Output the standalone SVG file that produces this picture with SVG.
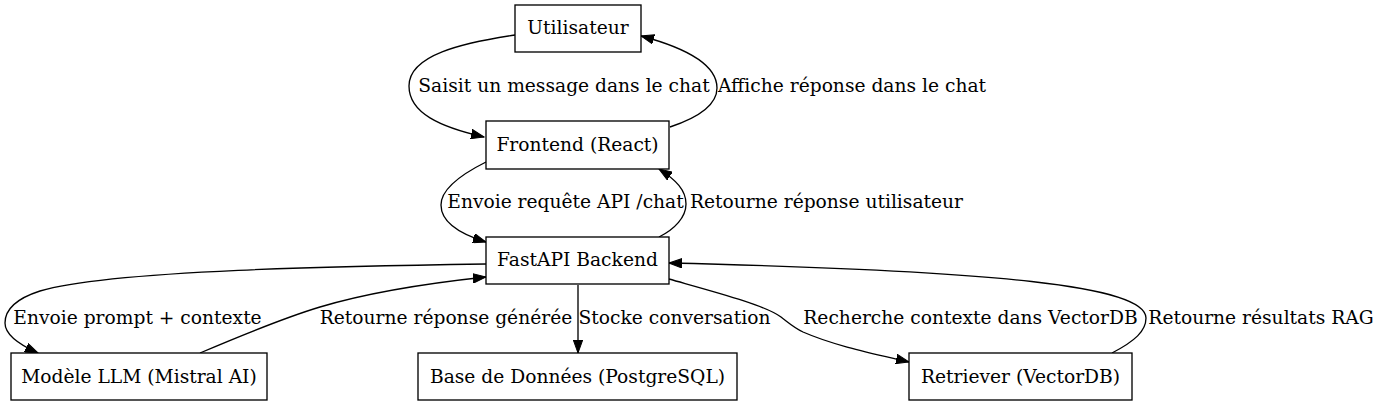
<svg xmlns="http://www.w3.org/2000/svg" width="1381" height="407" viewBox="0 0 1381 407">
<defs>
<style>
text{font-family:"DejaVu Serif","Liberation Serif",serif;font-size:18.67px;fill:#000;text-anchor:middle}
.node rect{fill:#fff;stroke:#000;stroke-width:1.33}
.edge path{fill:none;stroke:#000;stroke-width:1.33;marker-end:url(#arr)}
</style>
<marker id="arr" markerUnits="userSpaceOnUse" markerWidth="14" markerHeight="10" refX="13" refY="5" orient="auto" viewBox="0 0 14 10">
<path d="M0,0.3 L13,5 L0,9.7 Z" fill="#000" stroke="#000" stroke-width="1"/>
</marker>
</defs>
<rect width="1381" height="407" fill="#fff"/>
<g id="edges" class="edge">
<path d="M515,35 C462,43 409,55 409,86 C409,113 440,127 484,137"/>
<path d="M670,127 C700,117 717,105 717,88 C717,66 690,49 641,36"/>
<path d="M486,162 C460,175 441,190 441,205 C441,222 460,234 486,242"/>
<path d="M659,237 C675,229 686,217 686,204 C686,190 676,180 659,169"/>
<path d="M486,264 C350,266 110,270 40,291 C12,300 5,312 5,323 C5,335 20,345 38,353"/>
<path d="M200,353 C240,336 290,316 320,307 C370,292 430,283 486,277"/>
<path d="M578,285 L578,353"/>
<path d="M669,279 C715,292 765,305 781,317 C789,323 793,327 803,332 C835,346 875,354 909,362"/>
<path d="M1112,353 C1135,341 1146,331 1146,318 C1146,286 1000,271 669,263"/>
<text x="564" y="92">Saisit un message dans le chat</text>
<text x="852" y="92">Affiche réponse dans le chat</text>
<text x="565.5" y="208">Envoie requête API /chat</text>
<text x="826.5" y="208">Retourne réponse utilisateur</text>
<text x="137.5" y="324">Envoie prompt + contexte</text>
<text x="446" y="324">Retourne réponse générée</text>
<text x="674.5" y="324">Stocke conversation</text>
<text x="970.5" y="324">Recherche contexte dans VectorDB</text>
<text x="1261" y="324">Retourne résultats RAG</text>
</g>
<g id="utilisateur" class="node"><rect x="515" y="5" width="126" height="47"/><text x="578" y="34">Utilisateur</text></g>
<g id="frontend" class="node"><rect x="486" y="121" width="183" height="48"/><text x="577.5" y="151">Frontend (React)</text></g>
<g id="fastapi" class="node"><rect x="486" y="237" width="183" height="47"/><text x="577.5" y="266">FastAPI Backend</text></g>
<g id="llm" class="node"><rect x="11" y="353" width="256" height="47"/><text x="139" y="383">Modèle LLM (Mistral AI)</text></g>
<g id="db" class="node"><rect x="418" y="353" width="319" height="47"/><text x="577.5" y="383">Base de Données (PostgreSQL)</text></g>
<g id="retriever" class="node"><rect x="909" y="353" width="223" height="47"/><text x="1020.5" y="383">Retriever (VectorDB)</text></g>
</svg>
